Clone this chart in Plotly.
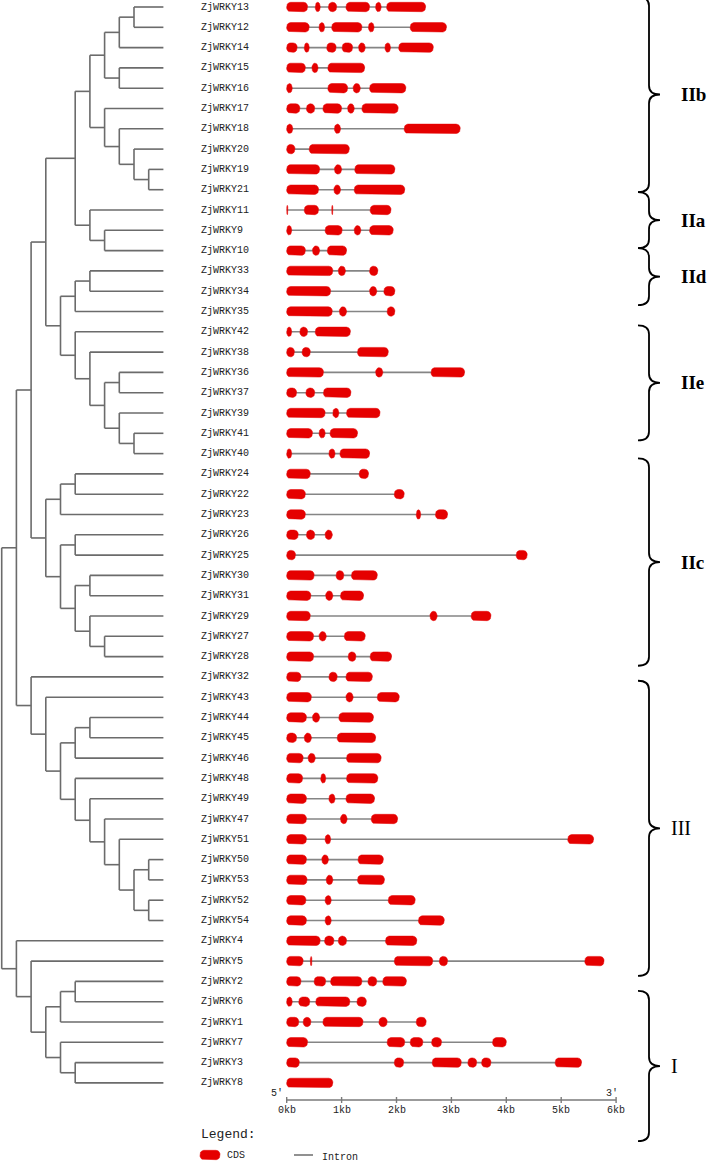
import math
import plotly.graph_objects as go

# ---------------- data ----------------
genes = ["ZjWRKY13", "ZjWRKY12", "ZjWRKY14", "ZjWRKY15", "ZjWRKY16", "ZjWRKY17",
         "ZjWRKY18", "ZjWRKY20", "ZjWRKY19", "ZjWRKY21", "ZjWRKY11", "ZjWRKY9",
         "ZjWRKY10", "ZjWRKY33", "ZjWRKY34", "ZjWRKY35", "ZjWRKY42", "ZjWRKY38",
         "ZjWRKY36", "ZjWRKY37", "ZjWRKY39", "ZjWRKY41", "ZjWRKY40", "ZjWRKY24",
         "ZjWRKY22", "ZjWRKY23", "ZjWRKY26", "ZjWRKY25", "ZjWRKY30", "ZjWRKY31",
         "ZjWRKY29", "ZjWRKY27", "ZjWRKY28", "ZjWRKY32", "ZjWRKY43", "ZjWRKY44",
         "ZjWRKY45", "ZjWRKY46", "ZjWRKY48", "ZjWRKY49", "ZjWRKY47", "ZjWRKY51",
         "ZjWRKY50", "ZjWRKY53", "ZjWRKY52", "ZjWRKY54", "ZjWRKY4", "ZjWRKY5",
         "ZjWRKY2", "ZjWRKY6", "ZjWRKY1", "ZjWRKY7", "ZjWRKY3", "ZjWRKY8"]

# CDS (exon) intervals in kb, same order as genes
exons = [
    [(0.00, 0.38), (0.52, 0.61), (0.76, 0.91), (1.08, 1.51), (1.62, 1.72), (1.82, 2.53)],  # 13
    [(0.00, 0.41), (0.59, 0.69), (0.82, 1.37), (1.49, 1.59), (2.25, 2.91)],                # 12
    [(0.00, 0.19), (0.32, 0.41), (0.73, 0.90), (1.01, 1.20), (1.31, 1.43), (1.79, 1.89), (2.04, 2.67)],  # 14
    [(0.00, 0.34), (0.46, 0.57), (0.75, 1.42)],                                            # 15
    [(0.00, 0.10), (0.75, 1.11), (1.21, 1.34), (1.51, 2.17)],                              # 16
    [(0.00, 0.24), (0.36, 0.51), (0.66, 1.00), (1.11, 1.23), (1.37, 2.03)],                # 17
    [(0.00, 0.11), (0.87, 0.98), (2.14, 3.16)],                                            # 18
    [(0.00, 0.15), (0.41, 1.14)],                                                          # 20
    [(0.00, 0.60), (0.87, 1.00), (1.24, 1.97)],                                            # 19
    [(0.00, 0.58), (0.86, 0.98), (1.23, 2.15)],                                            # 21
    [(0.00, 0.02), (0.32, 0.58), (0.82, 0.84), (1.52, 1.90)],                              # 11
    [(0.00, 0.09), (0.70, 1.01), (1.23, 1.35), (1.51, 1.94)],                              # 9
    [(0.00, 0.34), (0.47, 0.60), (0.74, 1.09)],                                            # 10
    [(0.00, 0.84), (0.94, 1.07), (1.51, 1.66)],                                            # 33
    [(0.00, 0.80), (1.51, 1.64), (1.77, 1.97)],                                            # 34
    [(0.00, 0.83), (0.96, 1.09), (1.83, 1.97)],                                            # 35
    [(0.00, 0.09), (0.24, 0.38), (0.52, 1.16)],                                            # 42
    [(0.00, 0.14), (0.28, 0.43), (1.29, 1.85)],                                            # 38
    [(0.00, 0.67), (1.62, 1.75), (2.63, 3.24)],                                            # 36
    [(0.00, 0.18), (0.35, 0.51), (0.67, 1.17)],                                            # 37
    [(0.00, 0.70), (0.84, 0.95), (1.09, 1.70)],                                            # 39
    [(0.00, 0.47), (0.59, 0.70), (0.79, 1.29)],                                            # 41
    [(0.00, 0.09), (0.77, 0.88), (0.97, 1.51)],                                            # 40
    [(0.00, 0.43), (1.32, 1.49)],                                                          # 24
    [(0.00, 0.34), (1.96, 2.14)],                                                          # 22
    [(0.00, 0.34), (2.36, 2.44), (2.71, 2.93)],                                            # 23
    [(0.00, 0.21), (0.36, 0.51), (0.70, 0.83)],                                            # 26
    [(0.00, 0.16), (4.18, 4.38)],                                                          # 25
    [(0.00, 0.50), (0.90, 1.04), (1.18, 1.65)],                                            # 30
    [(0.00, 0.44), (0.71, 0.84), (0.98, 1.40)],                                            # 31
    [(0.00, 0.43), (2.61, 2.74), (3.36, 3.72)],                                            # 29
    [(0.00, 0.49), (0.59, 0.72), (1.05, 1.43)],                                            # 27
    [(0.00, 0.49), (1.12, 1.26), (1.52, 1.91)],                                            # 28
    [(0.00, 0.26), (0.77, 0.92), (1.08, 1.56)],                                            # 32
    [(0.00, 0.45), (1.08, 1.21), (1.65, 2.05)],                                            # 43
    [(0.00, 0.36), (0.47, 0.60), (0.95, 1.58)],                                            # 44
    [(0.00, 0.18), (0.32, 0.45), (0.92, 1.62)],                                            # 45
    [(0.00, 0.30), (0.39, 0.52), (1.09, 1.72)],                                            # 46
    [(0.00, 0.29), (0.62, 0.71), (1.09, 1.66)],                                            # 48
    [(0.00, 0.36), (0.77, 0.88), (1.08, 1.60)],                                            # 49
    [(0.00, 0.36), (0.98, 1.10), (1.54, 2.02)],                                            # 47
    [(0.00, 0.36), (0.70, 0.80), (5.12, 5.59)],                                            # 51
    [(0.00, 0.36), (0.64, 0.76), (1.30, 1.76)],                                            # 50
    [(0.00, 0.37), (0.72, 0.84), (1.29, 1.78)],                                            # 53
    [(0.00, 0.35), (0.70, 0.81), (1.85, 2.34)],                                            # 52
    [(0.00, 0.36), (0.70, 0.81), (2.40, 2.87)],                                            # 54
    [(0.00, 0.61), (0.69, 0.86), (0.94, 1.09), (1.80, 2.37)],                              # 4
    [(0.00, 0.30), (0.43, 0.46), (1.96, 2.66), (2.78, 2.93), (5.43, 5.78)],                # 5
    [(0.00, 0.26), (0.50, 0.71), (0.80, 1.37), (1.48, 1.64), (1.75, 2.18)],                # 2
    [(0.00, 0.10), (0.22, 0.42), (0.53, 1.15), (1.28, 1.45)],                              # 6
    [(0.00, 0.22), (0.30, 0.44), (0.66, 1.39), (1.68, 1.83), (2.36, 2.54)],                # 1
    [(0.00, 0.38), (1.83, 2.15), (2.25, 2.48), (2.64, 2.82), (3.75, 4.00)],                # 7
    [(0.00, 0.23), (1.96, 2.13), (2.65, 3.18), (3.30, 3.46), (3.55, 3.72), (4.89, 5.37)],  # 3
    [(0.00, 0.84)],                                                                        # 8
]

# cladogram: internal node = (depth level, child, child); tips are gene names
TIP_LEVEL = 11
tree = (0,
    (1,
        (2,
            (3,
                (5,
                    (6,
                        (7,
                            (8, (9, "ZjWRKY13", "ZjWRKY12"), "ZjWRKY14"),
                            (8, "ZjWRKY15", "ZjWRKY16")),
                        (7, "ZjWRKY17",
                            (8, "ZjWRKY18", (9, "ZjWRKY20", (10, "ZjWRKY19", "ZjWRKY21"))))),
                    (6, "ZjWRKY11", (7, "ZjWRKY9", "ZjWRKY10"))),
                (4,
                    (5, (6, "ZjWRKY33", "ZjWRKY34"), "ZjWRKY35"),
                    (5, "ZjWRKY42",
                        (6, "ZjWRKY38",
                            (7, (8, "ZjWRKY36", "ZjWRKY37"),
                                (8, "ZjWRKY39", (9, "ZjWRKY41", "ZjWRKY40"))))))),
            (3,
                (4, (5, "ZjWRKY24", "ZjWRKY22"), "ZjWRKY23"),
                (4, (5, "ZjWRKY26", "ZjWRKY25"),
                    (5, (6, "ZjWRKY30", "ZjWRKY31"),
                        (6, "ZjWRKY29", (7, "ZjWRKY27", "ZjWRKY28")))))),
        (2, "ZjWRKY32",
            (3, "ZjWRKY43",
                (4,
                    (5, (6, "ZjWRKY44", "ZjWRKY45"), "ZjWRKY46"),
                    (5, "ZjWRKY48",
                        (6, "ZjWRKY49",
                            (7, "ZjWRKY47",
                                (8, "ZjWRKY51",
                                    (9, (10, "ZjWRKY50", "ZjWRKY53"),
                                        (10, "ZjWRKY52", "ZjWRKY54")))))))))),
    (1, "ZjWRKY4",
        (2, "ZjWRKY5",
            (3, (4, (5, "ZjWRKY2", "ZjWRKY6"), "ZjWRKY1"),
                (4, "ZjWRKY7", (5, "ZjWRKY3", "ZjWRKY8"))))))

# subfamily brackets (in row units)
group_names = ["IIb", "IIa", "IId", "IIe", "IIc", "III", "I"]
group_start = [-0.50, 9.12, 11.88, 15.68, 22.24, 33.19, 48.47]
group_end = [9.12, 11.88, 14.69, 21.35, 32.45, 47.73, 55.87]

scale_ticks_kb = [0, 1, 2, 3, 4, 5, 6]
scale_tick_labels = ["0kb", "1kb", "2kb", "3kb", "4kb", "5kb", "6kb"]

# ---------------- layout constants ----------------
W, H = 709, 1162
TREE_X0, TREE_DX = 1.7, 14.7        # px of level 0, px per level
GENE_X0, GENE_DX = 286.7, 54.9      # px of 0 kb, px per kb
ROW_Y0, ROW_DY = 7.0, 20.3          # px of row 0, px per row
LABEL_X = 199
AXIS_Y = 1100
RED = "#e50000"
GREY = "#858585"
TREE_COL = "#6b6b6b"
MONO = "Liberation Mono, DejaVu Sans Mono, monospace"
SERIF = "Liberation Serif, Times New Roman, serif"

row_of = {g: i for i, g in enumerate(genes)}

# ---------------- tree ----------------
tx, ty = [], []


def walk(node):
    if isinstance(node, str):
        return TIP_LEVEL, row_of[node]
    level, *children = node
    pts = [walk(c) for c in children]
    ys = [p[1] for p in pts]
    for cx, cy in pts:
        tx.extend([level, cx, None])
        ty.extend([cy, cy, None])
    tx.extend([level, level, None])
    ty.extend([min(ys), max(ys), None])
    return level, (min(ys) + max(ys)) / 2


walk(tree)

fig = go.Figure()
fig.add_trace(go.Scatter(x=tx, y=ty, mode="lines", xaxis="x", yaxis="y",
                         line=dict(color=TREE_COL, width=1.6), hoverinfo="skip",
                         showlegend=False))

# ---------------- gene structures ----------------
ix, iy = [], []
for r, ex in enumerate(exons):
    ix.extend([ex[0][0], ex[-1][1], None])
    iy.extend([r, r, None])
fig.add_trace(go.Scatter(x=ix, y=iy, mode="lines", xaxis="x2", yaxis="y",
                         line=dict(color=GREY, width=1.6), hoverinfo="skip",
                         showlegend=False))


def rounded_rect_px(X0, X1, Yc, h=4.7, rad=4.0):
    w = max(X1 - X0, 1.2)
    X1 = X0 + w
    rx = min(rad, w / 2)
    ry = min(rad, h)
    top, bot = Yc - h, Yc + h
    pts = []
    corners = [((X1 - rx, top + ry), -90, 0), ((X1 - rx, bot - ry), 0, 90),
               ((X0 + rx, bot - ry), 90, 180), ((X0 + rx, top + ry), 180, 270)]
    for (cx, cy), a0, a1 in corners:
        for k in range(7):
            t = math.radians(a0 + (a1 - a0) * k / 6)
            pts.append((cx + rx * math.cos(t), cy + ry * math.sin(t)))
    pts.append(pts[0])
    return pts


ex_x, ex_y = [], []
for r, ex in enumerate(exons):
    Yc = ROW_Y0 + ROW_DY * r
    for s, e in ex:
        for X, Y in rounded_rect_px(GENE_X0 + GENE_DX * s, GENE_X0 + GENE_DX * e, Yc):
            ex_x.append((X - GENE_X0) / GENE_DX)
            ex_y.append((Y - ROW_Y0) / ROW_DY)
        ex_x.append(None)
        ex_y.append(None)
fig.add_trace(go.Scatter(x=ex_x, y=ex_y, mode="lines", fill="toself", fillcolor=RED,
                         xaxis="x2", yaxis="y", line=dict(color=RED, width=0.5),
                         hoverinfo="skip", showlegend=False))

# scale bar
sx, sy = [scale_ticks_kb[0], scale_ticks_kb[-1], None], [AXIS_Y, AXIS_Y, None]
for k in scale_ticks_kb:
    sx.extend([k, k, None])
    sy.extend([AXIS_Y - 3, AXIS_Y + 3, None])
fig.add_trace(go.Scatter(x=sx, y=sy, mode="lines", xaxis="x2", yaxis="y2",
                         line=dict(color="#7a7a7a", width=1.4), hoverinfo="skip",
                         showlegend=False))

annotations = []
for k, lab in zip(scale_ticks_kb, scale_tick_labels):
    annotations.append(dict(x=k, y=AXIS_Y + 10, xref="x2", yref="y2", text=lab,
                            showarrow=False, xanchor="center", yanchor="middle",
                            font=dict(family=MONO, size=10, color="#222")))
annotations.append(dict(x=277, y=AXIS_Y - 7, xref="x3", yref="y2", text="5'",
                        showarrow=False, font=dict(family=MONO, size=10, color="#222")))
annotations.append(dict(x=612, y=AXIS_Y - 7, xref="x3", yref="y2", text="3'",
                        showarrow=False, font=dict(family=MONO, size=10, color="#222")))

# gene labels
for r, g in enumerate(genes):
    annotations.append(dict(x=LABEL_X, y=r, xref="x3", yref="y", text=g, showarrow=False,
                            xanchor="left", yanchor="middle",
                            font=dict(family=MONO, size=10, color="#222")))

# ---------------- brackets ----------------
shapes = []
XE, XB, XT, C = 638, 649, 660, 9
for name, r0, r1 in zip(group_names, group_start, group_end):
    y0 = ROW_Y0 + ROW_DY * r0
    y1 = ROW_Y0 + ROW_DY * r1
    ym = (y0 + y1) / 2
    path = (f"M {XE},{y0} Q {XB},{y0} {XB},{y0 + C} L {XB},{ym - C} "
            f"Q {XB},{ym} {XT},{ym} Q {XB},{ym} {XB},{ym + C} "
            f"L {XB},{y1 - C} Q {XB},{y1} {XE},{y1}")
    shapes.append(dict(type="path", path=path, xref="x3", yref="y2",
                       line=dict(color="black", width=1.8)))
    bold = name.startswith("II") and name != "III"
    annotations.append(dict(x=679 if bold else 669, y=ym, xref="x3", yref="y2",
                            text=f"<b>{name}</b>" if bold else name, showarrow=False,
                            xanchor="left", yanchor="middle",
                            font=dict(family=SERIF, size=19 if bold else 20, color="black")))

# ---------------- legend ----------------
annotations.append(dict(x=199, y=1134, xref="x3", yref="y2", text="Legend:", showarrow=False,
                        xanchor="left", yanchor="middle",
                        font=dict(family=MONO, size=13, color="#222")))
cds = rounded_rect_px(200, 220, 1155)
fig.add_trace(go.Scatter(x=[p[0] for p in cds], y=[p[1] for p in cds], mode="lines",
                         fill="toself", fillcolor=RED, line=dict(color=RED, width=0.5),
                         xaxis="x3", yaxis="y2", hoverinfo="skip", showlegend=False))
annotations.append(dict(x=225, y=1155, xref="x3", yref="y2", text="CDS", showarrow=False,
                        xanchor="left", yanchor="middle",
                        font=dict(family=MONO, size=10, color="#222")))
fig.add_trace(go.Scatter(x=[294, 313], y=[1155, 1155], mode="lines",
                         line=dict(color="#555", width=1.3), xaxis="x3", yaxis="y2",
                         hoverinfo="skip", showlegend=False))
annotations.append(dict(x=320, y=1157, xref="x3", yref="y2", text="Intron", showarrow=False,
                        xanchor="left", yanchor="middle",
                        font=dict(family=MONO, size=10, color="#222")))

# ---------------- axes ----------------
hidden = dict(visible=False, showgrid=False, zeroline=False, fixedrange=True)
fig.update_layout(
    width=W, height=H,
    margin=dict(l=0, r=0, t=0, b=0),
    paper_bgcolor="white", plot_bgcolor="white",
    showlegend=False,
    xaxis=dict(range=[-TREE_X0 / TREE_DX, (W - TREE_X0) / TREE_DX], domain=[0, 1], **hidden),
    xaxis2=dict(range=[-GENE_X0 / GENE_DX, (W - GENE_X0) / GENE_DX], domain=[0, 1],
                overlaying="x", anchor="y", **hidden),
    xaxis3=dict(range=[0, W], domain=[0, 1], overlaying="x", anchor="y", **hidden),
    yaxis=dict(range=[(H - ROW_Y0) / ROW_DY, -ROW_Y0 / ROW_DY], domain=[0, 1], **hidden),
    yaxis2=dict(range=[H, 0], domain=[0, 1], overlaying="y", anchor="x", **hidden),
    shapes=shapes,
    annotations=annotations,
)

fig.write_html("out.html", config={"displayModeBar": False},
               post_script="document.body.style.margin='0px';")
